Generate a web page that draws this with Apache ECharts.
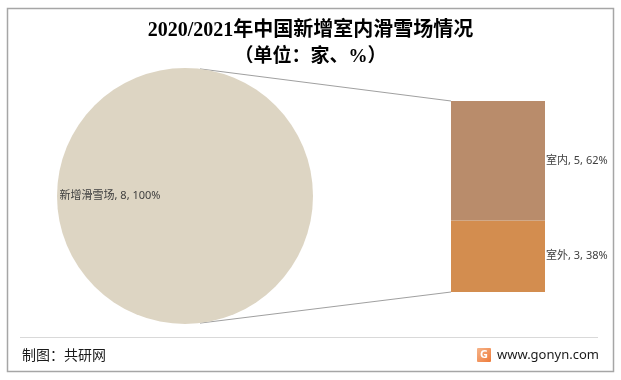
<!DOCTYPE html>
<html>
<head>
<meta charset="utf-8">
<script src="https://cdn.jsdelivr.net/npm/echarts@6/dist/echarts.min.js"></script>
<style>
html,body{margin:0;padding:0;background:#fff;}
#main{width:621px;height:380px;}
</style>
</head>
<body>
<div id="main"></div>
<script>
// ---- data ----
var titleText = '2020/2021年中国新增室内滑雪场情况';
var subtitleText = '（单位：家、%）';
var pieName = ['新增滑雪场'];
var pieValue = [8];
var piePct = [100];
var barNames = ['室外', '室内'];
var barValues = [3, 5];
var barPct = [38, 62];
var barColors = ['#D38D4F', '#B98C6B'];
var sourceText = '制图：共研网';
var siteText = 'www.gonyn.com';

// ---- layout constants ----
var PIE_CX = 185, PIE_CY = 196, PIE_R = 128;
var TITLE_FONT = "'Liberation Serif','Noto Sans CJK SC',serif";
var LABEL_FONT = "'Noto Sans','Noto Sans CJK SC',sans-serif";

var chart = echarts.init(document.getElementById('main'), null, {renderer: 'canvas'});

var barSeries = barNames.map(function (n, i) {
  return {
    type: 'bar',
    name: n,
    stack: 'total',
    barWidth: '100%',
    data: [barValues[i]],
    itemStyle: {color: barColors[i]},
    label: {
      show: true,
      position: 'right',
      distance: 1,
      color: '#404040',
      fontSize: 11,
      fontFamily: LABEL_FONT,
      formatter: function () { return n + ', ' + barValues[i] + ', ' + barPct[i] + '%'; }
    },
    emphasis: {disabled: true},
    silent: true
  };
});

var option = {
  backgroundColor: '#fff',
  animation: false,
  title: [{
    text: titleText,
    left: 'center',
    top: 20,
    padding: 0,
    textStyle: {fontFamily: TITLE_FONT, fontWeight: 'bold', fontSize: 20, lineHeight: 22, color: '#000'}
  }, {
    text: subtitleText,
    left: 'center',
    top: 46,
    padding: 0,
    textStyle: {fontFamily: TITLE_FONT, fontWeight: 'bold', fontSize: 19, lineHeight: 22, color: '#000'}
  }],
  grid: {left: 451, top: 101, width: 94, height: 191, containLabel: false},
  xAxis: {type: 'category', data: ['x'], show: false},
  yAxis: {type: 'value', min: 0, max: 8, show: false},
  series: [{
    type: 'pie',
    center: [PIE_CX, PIE_CY],
    radius: PIE_R,
    startAngle: 0,
    silent: true,
    emphasis: {disabled: true},
    itemStyle: {color: '#DDD5C3'},
    label: {
      show: true,
      position: 'inside',
      offset: [-8, 0],
      color: '#404040',
      fontSize: 11,
      fontFamily: LABEL_FONT,
      formatter: function () { return pieName[0] + ', ' + pieValue[0] + ', ' + piePct[0] + '%'; }
    },
    labelLine: {show: false},
    data: pieName.map(function (n, i) { return {name: n, value: pieValue[i]}; })
  }].concat(barSeries)
};
chart.setOption(option);

// connector lines from pie to bar, computed from the axes
var gridRect = chart.getModel().getComponent('grid', 0).coordinateSystem.getRect();
var yTop = chart.convertToPixel({yAxisIndex: 0}, 8);
var yBot = chart.convertToPixel({yAxisIndex: 0}, 0);
var dx = 15;
var dy = Math.sqrt(PIE_R * PIE_R - dx * dx);

chart.setOption({
  graphic: [
    {type: 'rect', shape: {x: 7.5, y: 8.5, width: 606, height: 363}, style: {fill: null, stroke: '#A6A6A6', lineWidth: 1.5}, z: 100},
    {type: 'line', shape: {x1: PIE_CX + dx, y1: PIE_CY - dy, x2: gridRect.x, y2: yTop}, style: {stroke: '#A0A0A0', lineWidth: 1}},
    {type: 'line', shape: {x1: PIE_CX + dx, y1: PIE_CY + dy, x2: gridRect.x, y2: yBot}, style: {stroke: '#A0A0A0', lineWidth: 1}},
    {type: 'line', shape: {x1: 20, y1: 337.5, x2: 598, y2: 337.5}, style: {stroke: '#D9D9D9', lineWidth: 1}},
    {type: 'text', x: 22, y: 355, style: {text: sourceText, fill: '#1a1a1a', font: "14px 'Noto Sans CJK SC', sans-serif", verticalAlign: 'middle'}},
    {type: 'rect', shape: {x: 477, y: 348, width: 14, height: 14, r: 1},
      style: {fill: new echarts.graphic.LinearGradient(0, 0, 1, 1, [{offset: 0, color: '#F6B48A'}, {offset: 1, color: '#EE7B3A'}])}},
    {type: 'text', x: 484, y: 355, style: {text: 'G', fill: '#fff', font: "bold 11px 'Noto Sans', sans-serif", align: 'center', verticalAlign: 'middle'}},
    {type: 'text', x: 497, y: 355, style: {text: siteText, fill: '#1a1a1a', font: "13px 'Noto Sans', sans-serif", verticalAlign: 'middle'}}
  ]
});
</script>
</body>
</html>
